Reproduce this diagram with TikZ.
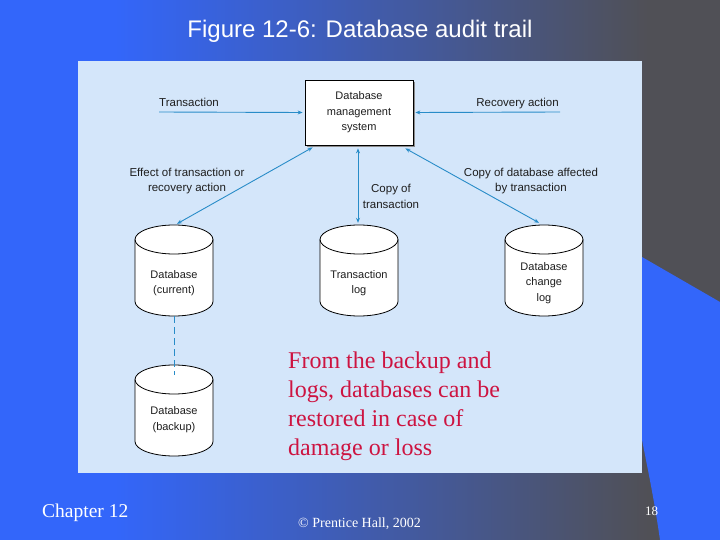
\documentclass[tikz,border=0pt]{standalone}
\usepackage{fontspec}
\setmainfont{Liberation Serif}
\setsansfont{Liberation Sans}
\usetikzlibrary{arrows.meta,calc}
\definecolor{bgblue}{RGB}{51,102,250}
\definecolor{bggrey}{RGB}{80,80,86}
\definecolor{panelc}{RGB}{212,230,250}
\definecolor{arrowc}{RGB}{40,140,200}
\definecolor{notec}{RGB}{205,20,65}
\definecolor{inkc}{RGB}{30,30,30}
\pgfdeclarehorizontalshading{bgshade}{100bp}{color(0bp)=(bgblue); color(33bp)=(bgblue); color(70bp)=(bggrey); color(100bp)=(bggrey)}
\newcommand{\dbcyl}[6]{%
  \path[cylbody] (#2-39,#3+14.5) -- (#2-39,#4-14.5)
    arc[start angle=180,end angle=360,x radius=39pt,y radius=14.5pt]
    -- (#2+39,#3+14.5)
    arc[start angle=0,end angle=180,x radius=39pt,y radius=14.5pt] -- cycle;
  \draw[cylline] (#2-39,#3+14.5)
    arc[start angle=180,end angle=360,x radius=39pt,y radius=14.5pt];
  \node[cylnode, minimum height={#4-#3},
        label={[cyltext,yshift=-#6pt]center:#5}] (#1) at (#2,{(#3+#4)/2}) {};
}
\begin{document}
\begin{tikzpicture}[x=1pt,y=-1pt,
  >={Stealth[length=5pt,width=4pt]},
  cylbody/.style={draw=black, line width=0.8pt, fill=white},
  cylline/.style={draw=black, line width=0.8pt},
  cylnode/.style={rectangle, draw=none, minimum width=78pt, inner sep=0pt},
  cyltext/.style={align=center, font=\sffamily\fontsize{11}{15.5}\selectfont, text=inkc, inner sep=0pt},
  dbmsbox/.style={rectangle, draw=black, line width=0.8pt, fill=white, minimum width=108pt, minimum height=65pt, align=center, inner sep=0pt, font=\sffamily\fontsize{11}{15.5}\selectfont, text=inkc},
  lbl/.style={align=center, font=\sffamily\fontsize{11.5}{15.5}\selectfont, text=inkc, inner sep=0pt},
  conn/.style={draw=arrowc, line width=0.9pt},
  foot/.style={text=white, inner sep=0pt}
]
\useasboundingbox (0,0) rectangle (720,540);
% background
\shade[shading=bgshade] (0,0) rectangle (720,540);
\fill[bgblue] (642,257) -- (720,302) -- (720,540) -- (660,540)
  .. controls (655,505) and (650,480) .. (642,440) -- cycle;
% title
\node[foot, anchor=base, font=\sffamily\fontsize{24}{28}\selectfont] (title) at (360,38) {Figure 12-6: Database audit trail};
% panel
\fill[panelc] (78,61) rectangle (642,473);
% DBMS box
\fill[black!45] (307,82) rectangle (415,147);
\node[dbmsbox] (dbms) at (359,112.5) {Database\\management\\system};
% cylinders
\dbcyl{cur}{174}{225}{316}{Database\\(current)}{12.5}
\dbcyl{tlog}{359}{225}{316}{Transaction\\log}{12.5}
\dbcyl{chg}{544}{225}{316}{Database\\change\\log}{12.5}
\dbcyl{bkp}{174}{365}{456}{Database\\(backup)}{9}
% inputs
\coordinate (tin) at (159,112);
\coordinate (rin) at (560,112);
\draw[conn,->] (tin) -- ($(dbms.west)+(-2,0)$);
\draw[conn,->] (rin) -- ($(dbms.east)+(2,0)$);
\node[lbl, anchor=base west] (tlab) at (159,107) {Transaction};
\node[lbl, anchor=base east] (rlab) at (559,107) {Recovery action};
% connectors to stores
\draw[conn,<->] ($(dbms.south west)+(8,2)$) -- ($(cur.north)+(3,-1)$);
\draw[conn,<->] ($(dbms.south)+(-1,3)$) -- ($(tlog.north)+(-1,-2)$);
\draw[conn,<->] ($(dbms.south east)+(-8,3)$) -- ($(chg.north)+(-5,-2)$);
\node[lbl] (elab) at (187,181) {Effect of transaction or\\recovery action};
\node[lbl] (clab) at (391,196.5) {Copy of\\transaction};
\node[lbl] (dlab) at (531,181) {Copy of database affected\\by transaction};
% dashed link to backup
\coordinate (bkin) at (174,375);
\draw[draw=arrowc, line width=0.8pt, dash pattern=on 7pt off 4pt] (cur.south) -- (bkin);
% note
\node[anchor=north west, align=left, inner sep=0pt, text=notec, font=\fontsize{24}{29}\selectfont] (note) at (288,351.5)
  {From the backup and\\logs, databases can be\\restored in case of\\damage or loss};
% footer
\node[foot, anchor=base west, font=\fontsize{19.5}{22}\selectfont] (chap) at (42,517) {Chapter 12};
\node[foot, anchor=base west, font=\fontsize{14}{16}\selectfont] (copy) at (298,527) {© Prentice Hall, 2002};
\node[foot, anchor=base west, font=\fontsize{13}{15}\selectfont] (pg) at (645,515) {18};
\end{tikzpicture}
\end{document}
